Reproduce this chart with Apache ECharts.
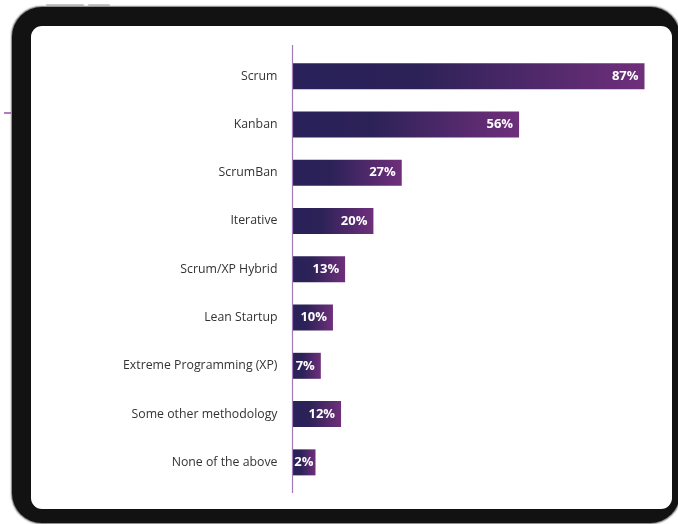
<!DOCTYPE html>
<html>
<head>
<meta charset="utf-8">
<script src="https://cdn.jsdelivr.net/npm/echarts@6/dist/echarts.min.js"></script>
<style>
  html, body { margin: 0; padding: 0; background: #fff; }
  #stage { position: relative; width: 678px; height: 524px; overflow: hidden; }
  /* tablet frame behind the chart */
  .bezel {
    position: absolute; left: 12px; top: 7px; width: 668px; height: 516px;
    border-radius: 30px; background: #121212; box-shadow: 0 0 1.5px 0.5px #777;
  }
  .screen {
    position: absolute; left: 30.5px; top: 26px; width: 641px; height: 482.5px;
    border-radius: 11px; background: #fff;
  }
  .btn { position: absolute; top: 4px; height: 2px; background: #c8c8c8; border-radius: 1px; }
  .tick { position: absolute; left: 4px; top: 112px; width: 7px; height: 1.5px; background: #b07cc0; }
  #chart { position: absolute; left: 0; top: 0; width: 678px; height: 524px; }
</style>
</head>
<body>
<div id="stage">
  <div class="btn" style="left:46px;width:38px"></div>
  <div class="btn" style="left:88px;width:22px"></div>
  <div class="tick"></div>
  <div class="bezel"></div>
  <div class="screen"></div>
  <div id="chart"></div>
</div>
<script>
// 各方法论占比（从上到下）
const methods = ['Scrum', 'Kanban', 'ScrumBan', 'Iterative', 'Scrum/XP Hybrid',
  'Lean Startup', 'Extreme Programming (XP)', 'Some other methodology', 'None of the above']
const shares = [87, 56, 27, 20, 13, 10, 7, 12, 2]

const axisX = 292.5 // 纵轴所在位置
const chart = echarts.init(document.getElementById('chart'), null, { renderer: 'canvas' })

// 很短的柱子里标签贴右边放
const barData = shares.map(v => v < 5 ? { value: v, label: { distance: 2 } } : v)

const option = {
  backgroundColor: 'transparent',
  animation: false,
  grid: {
    left: axisX,
    right: 678 - 644.5,
    top: 52,
    bottom: 524 - 486.5,
    containLabel: false
  },
  xAxis: {
    type: 'value',
    min: 0,
    max: 87,
    show: false
  },
  yAxis: {
    type: 'category',
    inverse: true,
    data: methods,
    axisLine: { show: false },
    axisTick: { show: false },
    axisLabel: {
      margin: 15,
      color: '#333',
      fontSize: 12.3,
      fontFamily: 'Open Sans',
      padding: [0, 0, 4, 0]
    }
  },
  graphic: [
    { // 纵轴线比网格略长
      type: 'line',
      z: 10,
      shape: { x1: axisX, y1: 45, x2: axisX, y2: 493 },
      style: { stroke: '#a27ab8', lineWidth: 1.2 }
    }
  ],
  series: [
    {
      type: 'bar',
      data: barData,
      barWidth: 26,
      barMinHeight: 23,
      itemStyle: {
        // 每根柱子从深蓝紫渐变到紫色
        color: new echarts.graphic.LinearGradient(0, 0, 1, 0, [
          { offset: 0, color: '#29215a' },
          { offset: 0.35, color: '#2c2257' },
          { offset: 1, color: '#6f2f7b' }
        ])
      },
      label: {
        show: true,
        position: 'insideRight',
        distance: 6,
        formatter: '{c}%',
        color: '#fff',
        fontWeight: 'bold',
        fontSize: 13,
        fontFamily: 'Open Sans'
      }
    }
  ]
}
chart.setOption(option)
</script>
</body>
</html>
